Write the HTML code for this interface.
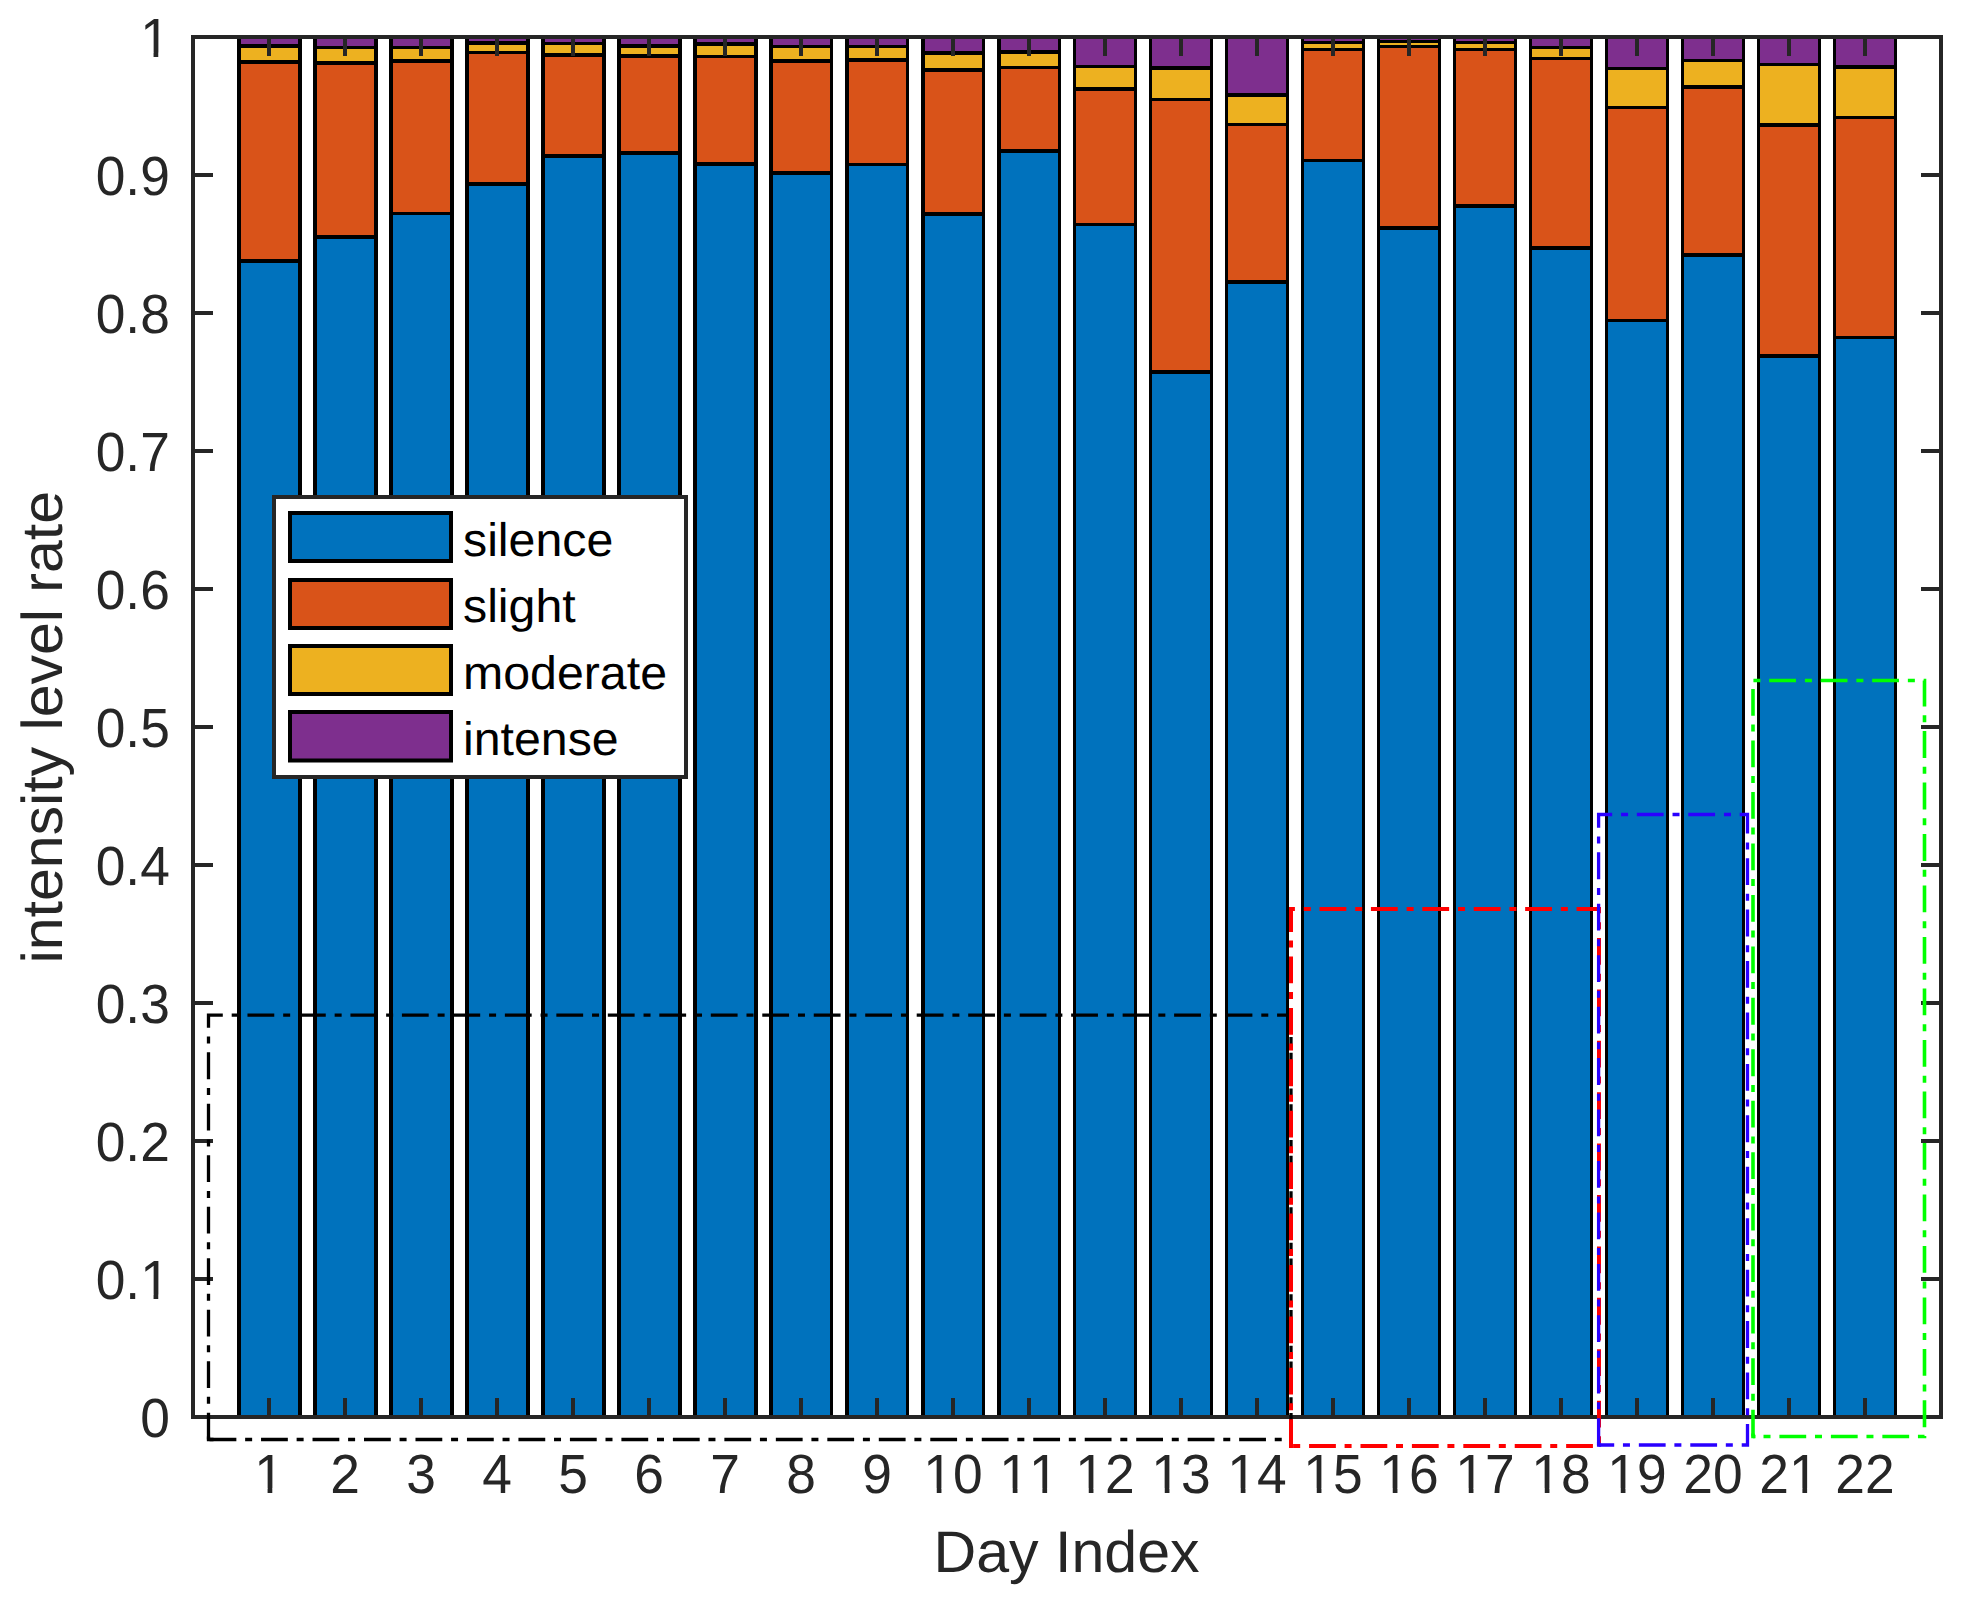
<!DOCTYPE html>
<html lang="en"><head><meta charset="utf-8"><title>Intensity level rate by day</title>
<style>html,body{margin:0;padding:0;background:#fff}svg{display:block}text{font-family:"Liberation Sans",Arial,Helvetica,sans-serif;font-kerning:none;font-variant-ligatures:none;text-rendering:geometricPrecision}</style></head><body>
<svg width="1964" height="1599" viewBox="0 0 1964 1599">
<rect x="0" y="0" width="1964" height="1599" fill="#fff"/>
<path fill="#0072BD" d="M238 262H301V1417H238ZM314 238H377V1417H314ZM390 214H453V1417H390ZM466 185H529V1417H466ZM542 157H605V1417H542ZM618 154H681V1417H618ZM694 165H757V1417H694ZM770 174H832V1417H770ZM846 165H908V1417H846ZM922 215H984V1417H922ZM998 152H1060V1417H998ZM1074 225H1136V1417H1074ZM1150 373H1212V1417H1150ZM1226 283H1288V1417H1226ZM1302 161H1364V1417H1302ZM1378 229H1440V1417H1378ZM1454 207H1516V1417H1454ZM1530 249H1592V1417H1530ZM1606 321H1668V1417H1606ZM1682 256H1744V1417H1682ZM1758 357H1820V1417H1758ZM1834 338H1896V1417H1834Z"/>
<path fill="#D95319" d="M238 63H301V260H238ZM314 64H377V236H314ZM390 62H453V213H390ZM466 53H529V183H466ZM542 56H605V155H542ZM618 57H681V152H618ZM694 57H757V163H694ZM770 62H832V172H770ZM846 61H908V164H846ZM922 71H984V213H922ZM998 68H1060V150H998ZM1074 90H1136V224H1074ZM1150 100H1212V371H1150ZM1226 125H1288V281H1226ZM1302 50H1364V160H1302ZM1378 47H1440V227H1378ZM1454 50H1516V205H1454ZM1530 59H1592V247H1530ZM1606 108H1668V320H1606ZM1682 88H1744V254H1682ZM1758 126H1820V355H1758ZM1834 118H1896V337H1834Z"/>
<path fill="#EDB120" d="M238 47H301V61H238ZM314 48H377V62H314ZM390 48H453V60H390ZM466 44H529V52H466ZM542 44H605V54H542ZM618 47H681V55H618ZM694 45H757V56H694ZM770 47H832V60H770ZM846 47H908V59H846ZM922 54H984V69H922ZM998 53H1060V67H998ZM1074 67H1136V88H1074ZM1150 69H1212V99H1150ZM1226 96H1288V124H1226ZM1302 43H1364V49H1302ZM1378 42H1440V46H1378ZM1454 43H1516V49H1454ZM1530 48H1592V58H1530ZM1606 69H1668V107H1606ZM1682 61H1744V86H1682ZM1758 65H1820V124H1758ZM1834 68H1896V117H1834Z"/>
<path fill="#7E2F8E" d="M238 37H301V45H238ZM314 37H377V47H314ZM390 37H453V47H390ZM466 37H529V42H466ZM542 37H605V43H542ZM618 37H681V45H618ZM694 37H757V43H694ZM770 37H832V46H770ZM846 37H908V46H846ZM922 37H984V52H922ZM998 37H1060V51H998ZM1074 37H1136V66H1074ZM1150 37H1212V67H1150ZM1226 37H1288V94H1226ZM1302 37H1364V42H1302ZM1378 37H1440V41H1378ZM1454 37H1516V42H1454ZM1530 37H1592V47H1530ZM1606 37H1668V68H1606ZM1682 37H1744V60H1682ZM1758 37H1820V64H1758ZM1834 37H1896V66H1834Z"/>
<path fill="#000" d="M237 36H241V1418H237ZM298 36H302V1418H298ZM237 44H302V48H237ZM237 60H302V64H237ZM237 259H302V263H237ZM313 36H317V1418H313ZM374 36H378V1418H374ZM313 46H378V49H313ZM313 61H378V65H313ZM313 235H378V239H313ZM389 36H393V1418H389ZM450 36H454V1418H450ZM389 46H454V49H389ZM389 59H454V63H389ZM389 212H454V215H389ZM465 36H469V1418H465ZM526 36H530V1418H526ZM465 41H530V45H465ZM465 51H530V54H465ZM465 182H530V186H465ZM541 36H545V1418H541ZM602 36H606V1418H602ZM541 42H606V45H541ZM541 53H606V57H541ZM541 154H606V158H541ZM617 36H621V1418H617ZM678 36H682V1418H678ZM617 44H682V48H617ZM617 54H682V58H617ZM617 151H682V155H617ZM693 36H697V1418H693ZM754 36H758V1418H754ZM693 42H758V46H693ZM693 55H758V58H693ZM693 162H758V166H693ZM769 36H773V1418H769ZM830 36H833V1418H830ZM769 45H833V48H769ZM769 59H833V63H769ZM769 171H833V175H769ZM845 36H849V1418H845ZM906 36H909V1418H906ZM845 45H909V48H845ZM845 58H909V62H845ZM845 163H909V166H845ZM921 36H925V1418H921ZM982 36H985V1418H982ZM921 51H985V55H921ZM921 68H985V72H921ZM921 212H985V216H921ZM997 36H1001V1418H997ZM1058 36H1061V1418H1058ZM997 50H1061V54H997ZM997 66H1061V69H997ZM997 149H1061V153H997ZM1073 36H1076V1418H1073ZM1134 36H1137V1418H1134ZM1073 65H1137V68H1073ZM1073 87H1137V91H1073ZM1073 223H1137V226H1073ZM1149 36H1152V1418H1149ZM1210 36H1213V1418H1210ZM1149 66H1213V70H1149ZM1149 98H1213V101H1149ZM1149 370H1213V374H1149ZM1225 36H1228V1418H1225ZM1286 36H1289V1418H1286ZM1225 93H1289V97H1225ZM1225 123H1289V126H1225ZM1225 280H1289V284H1225ZM1301 36H1304V1418H1301ZM1362 36H1365V1418H1362ZM1301 41H1365V44H1301ZM1301 48H1365V51H1301ZM1301 159H1365V162H1301ZM1377 36H1380V1418H1377ZM1438 36H1441V1418H1438ZM1377 40H1441V43H1377ZM1377 45H1441V48H1377ZM1377 226H1441V230H1377ZM1453 36H1456V1418H1453ZM1514 36H1517V1418H1514ZM1453 41H1517V44H1453ZM1453 48H1517V51H1453ZM1453 204H1517V208H1453ZM1529 36H1532V1418H1529ZM1590 36H1593V1418H1590ZM1529 46H1593V49H1529ZM1529 57H1593V60H1529ZM1529 246H1593V250H1529ZM1605 36H1608V1418H1605ZM1666 36H1669V1418H1666ZM1605 67H1669V70H1605ZM1605 106H1669V109H1605ZM1605 319H1669V322H1605ZM1681 36H1684V1418H1681ZM1742 36H1745V1418H1742ZM1681 59H1745V62H1681ZM1681 85H1745V89H1681ZM1681 253H1745V257H1681ZM1757 36H1760V1418H1757ZM1818 36H1821V1418H1818ZM1757 63H1821V66H1757ZM1757 123H1821V127H1757ZM1757 354H1821V358H1757ZM1833 36H1836V1418H1833ZM1894 36H1897V1418H1894ZM1833 65H1897V69H1833ZM1833 116H1897V119H1833ZM1833 336H1897V339H1833Z"/>
<g stroke="#262626" stroke-width="4" fill="none" stroke-linecap="butt">
<rect x="193.0" y="37.0" width="1748.0" height="1380.0"/>
<path d="M269.0 1417.0v-19M269.0 37.0v19M345.0 1417.0v-19M345.0 37.0v19M421.0 1417.0v-19M421.0 37.0v19M497.0 1417.0v-19M497.0 37.0v19M573.0 1417.0v-19M573.0 37.0v19M649.0 1417.0v-19M649.0 37.0v19M725.0 1417.0v-19M725.0 37.0v19M801.0 1417.0v-19M801.0 37.0v19M877.0 1417.0v-19M877.0 37.0v19M953.0 1417.0v-19M953.0 37.0v19M1029.0 1417.0v-19M1029.0 37.0v19M1105.0 1417.0v-19M1105.0 37.0v19M1181.0 1417.0v-19M1181.0 37.0v19M1257.0 1417.0v-19M1257.0 37.0v19M1333.0 1417.0v-19M1333.0 37.0v19M1409.0 1417.0v-19M1409.0 37.0v19M1485.0 1417.0v-19M1485.0 37.0v19M1561.0 1417.0v-19M1561.0 37.0v19M1637.0 1417.0v-19M1637.0 37.0v19M1713.0 1417.0v-19M1713.0 37.0v19M1789.0 1417.0v-19M1789.0 37.0v19M1865.0 1417.0v-19M1865.0 37.0v19M193.0 1279.0h20M1941.0 1279.0h-20M193.0 1141.0h20M1941.0 1141.0h-20M193.0 1003.0h20M1941.0 1003.0h-20M193.0 865.0h20M1941.0 865.0h-20M193.0 727.0h20M1941.0 727.0h-20M193.0 589.0h20M1941.0 589.0h-20M193.0 451.0h20M1941.0 451.0h-20M193.0 313.0h20M1941.0 313.0h-20M193.0 175.0h20M1941.0 175.0h-20"/>
</g>
<path d="M208.50 1439.50V1015.15H1291.00V1439.50H208.50" fill="none" stroke="#000000" stroke-width="3.3" stroke-dasharray="26.8 8.9 7 8.78" stroke-linejoin="miter"/>
<path d="M208.50 1436.50V1439.50H213.50" fill="none" stroke="#000000" stroke-width="3.3" stroke-linejoin="miter"/>
<path d="M1291.00 1446.00V909.00H1599.00V1446.00H1291.00" fill="none" stroke="#FF0000" stroke-width="4" stroke-dasharray="26.8 8.9 7 8.71" stroke-linejoin="miter"/>
<path d="M1291.00 1443.00V1446.00H1293.50" fill="none" stroke="#FF0000" stroke-width="4" stroke-linejoin="miter"/>
<path d="M1598.60 1445.00V814.50H1747.50V1445.00H1598.60" fill="none" stroke="#2A00FF" stroke-width="3.3" stroke-dasharray="26.8 8.9 7 8.74" stroke-linejoin="miter"/>
<path d="M1598.60 1442.00V1445.00H1601.10" fill="none" stroke="#2A00FF" stroke-width="3.3" stroke-linejoin="miter"/>
<path d="M1753.00 1436.50V680.50H1924.50V1436.50H1753.00" fill="none" stroke="#00FF00" stroke-width="3.6" stroke-dasharray="26.8 8.9 7 8.78" stroke-linejoin="miter"/>
<path d="M1753.00 1433.50V1436.50H1755.50" fill="none" stroke="#00FF00" stroke-width="3.6" stroke-linejoin="miter"/>
<rect x="274" y="497" width="412" height="280" fill="#fff" stroke="#262626" stroke-width="4"/>
<rect x="290" y="513.0" width="161" height="48.0" fill="#0072BD" stroke="#000" stroke-width="4"/>
<text transform="translate(463 556.0) scale(1.006 0.98)" font-size="48" fill="#000">silence</text>
<rect x="290" y="580.0" width="161" height="48.0" fill="#D95319" stroke="#000" stroke-width="4"/>
<text transform="translate(463 622.2) scale(1.006 0.98)" font-size="48" fill="#000">slight</text>
<rect x="290" y="646.0" width="161" height="48.0" fill="#EDB120" stroke="#000" stroke-width="4"/>
<text transform="translate(463 688.6) scale(1.006 0.98)" font-size="48" fill="#000">moderate</text>
<rect x="290" y="712.0" width="161" height="48.5" fill="#7E2F8E" stroke="#000" stroke-width="4"/>
<text transform="translate(463 754.6) scale(1.006 0.98)" font-size="48" fill="#000">intense</text>
<g font-size="53.33" fill="#262626">
<g text-anchor="middle">
<text transform="translate(269.00 1492.9) scale(1 1.035)">1</text>
<text transform="translate(345.00 1492.9) scale(1 1.035)">2</text>
<text transform="translate(421.00 1492.9) scale(1 1.035)">3</text>
<text transform="translate(497.00 1492.9) scale(1 1.035)">4</text>
<text transform="translate(573.00 1492.9) scale(1 1.035)">5</text>
<text transform="translate(649.00 1492.9) scale(1 1.035)">6</text>
<text transform="translate(725.00 1492.9) scale(1 1.035)">7</text>
<text transform="translate(801.00 1492.9) scale(1 1.035)">8</text>
<text transform="translate(877.00 1492.9) scale(1 1.035)">9</text>
<text transform="translate(953.00 1492.9) scale(1 1.035)">10</text>
<text transform="translate(1029.00 1492.9) scale(1 1.035)">11</text>
<text transform="translate(1105.00 1492.9) scale(1 1.035)">12</text>
<text transform="translate(1181.00 1492.9) scale(1 1.035)">13</text>
<text transform="translate(1257.00 1492.9) scale(1 1.035)">14</text>
<text transform="translate(1333.00 1492.9) scale(1 1.035)">15</text>
<text transform="translate(1409.00 1492.9) scale(1 1.035)">16</text>
<text transform="translate(1485.00 1492.9) scale(1 1.035)">17</text>
<text transform="translate(1561.00 1492.9) scale(1 1.035)">18</text>
<text transform="translate(1637.00 1492.9) scale(1 1.035)">19</text>
<text transform="translate(1713.00 1492.9) scale(1 1.035)">20</text>
<text transform="translate(1789.00 1492.9) scale(1 1.035)">21</text>
<text transform="translate(1865.00 1492.9) scale(1 1.035)">22</text>
</g><g text-anchor="end">
<text transform="translate(169.80 1437.3) scale(1 1.035)">0</text>
<text transform="translate(169.80 1299.3) scale(1 1.035)">0.1</text>
<text transform="translate(169.80 1161.3) scale(1 1.035)">0.2</text>
<text transform="translate(169.80 1023.3) scale(1 1.035)">0.3</text>
<text transform="translate(169.80 885.3) scale(1 1.035)">0.4</text>
<text transform="translate(169.80 747.3) scale(1 1.035)">0.5</text>
<text transform="translate(169.80 609.3) scale(1 1.035)">0.6</text>
<text transform="translate(169.80 471.3) scale(1 1.035)">0.7</text>
<text transform="translate(169.80 333.3) scale(1 1.035)">0.8</text>
<text transform="translate(169.80 195.3) scale(1 1.035)">0.9</text>
<text transform="translate(169.80 57.3) scale(1 1.035)">1</text>
</g></g>
<path fill="#fff" d="M256.73 1488.43H267.58V1493.60H256.73ZM272.29 1488.43H282.73V1493.60H272.29ZM925.90 1488.43H936.75V1493.60H925.90ZM941.46 1488.43H951.90V1493.60H941.46ZM1001.90 1488.43H1012.75V1493.60H1001.90ZM1017.46 1488.43H1027.90V1493.60H1017.46ZM1031.56 1488.43H1042.41V1493.60H1031.56ZM1047.12 1488.43H1057.56V1493.60H1047.12ZM1077.90 1488.43H1088.75V1493.60H1077.90ZM1093.46 1488.43H1103.90V1493.60H1093.46ZM1153.90 1488.43H1164.75V1493.60H1153.90ZM1169.46 1488.43H1179.90V1493.60H1169.46ZM1229.90 1488.43H1240.75V1493.60H1229.90ZM1245.46 1488.43H1255.90V1493.60H1245.46ZM1305.90 1488.43H1316.75V1493.60H1305.90ZM1321.46 1488.43H1331.90V1493.60H1321.46ZM1381.90 1488.43H1392.75V1493.60H1381.90ZM1397.46 1488.43H1407.90V1493.60H1397.46ZM1457.90 1488.43H1468.75V1493.60H1457.90ZM1473.46 1488.43H1483.90V1493.60H1473.46ZM1533.90 1488.43H1544.75V1493.60H1533.90ZM1549.46 1488.43H1559.90V1493.60H1549.46ZM1609.90 1488.43H1620.75V1493.60H1609.90ZM1625.46 1488.43H1635.90V1493.60H1625.46ZM1791.56 1488.43H1802.41V1493.60H1791.56ZM1807.12 1488.43H1817.56V1493.60H1807.12ZM142.70 1294.83H153.55V1300.00H142.70ZM158.26 1294.83H168.70V1300.00H158.26ZM142.70 52.83H153.55V58.00H142.70ZM158.26 52.83H168.70V58.00H158.26Z"/>
<text transform="translate(1066.6 1571.6) scale(1.0075 1)" font-size="58.67" fill="#262626" text-anchor="middle">Day Index</text>
<text transform="translate(62 727.2) rotate(-90) scale(1.0066 0.98)" font-size="58.67" fill="#262626" text-anchor="middle">intensity level rate</text>
</svg></body></html>
